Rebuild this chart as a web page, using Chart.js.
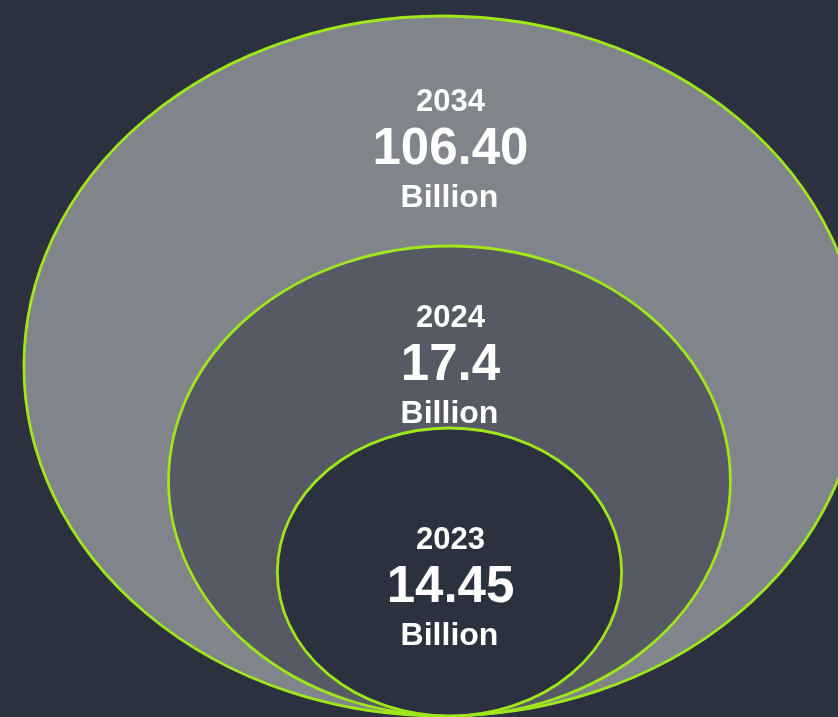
<!DOCTYPE html>
<html>
<head>
<meta charset="utf-8">
<script src="https://cdn.jsdelivr.net/npm/chart.js@4"></script>
<style>
  html, body { margin: 0; padding: 0; background: #2b313e; overflow: hidden; }
  #wrap { width: 838px; height: 717px; position: relative; }
</style>
</head>
<body>
<div id="wrap"><canvas id="c" width="838" height="717"></canvas></div>
<script>
// ---- data ----
const years = ['2034', '2024', '2023'];
const values = [106.40, 17.4, 14.45];
const valueLabels = ['106.40', '17.4', '14.45'];
const unitLabel = 'Billion';

// ---- style (sizes / positions / colours) ----
const ringRadius = [350, 235, 144];      // radius in axis units (x axis is stretched)
const ringOffsetX = [-6, 0, 0];
const labelCenterY = [566, 350, 128];    // axis units, centre of value text
const ringFill = ['#80848b', '#555a64', '#2b313e'];
const ringStroke = '#9fe61a';
const bgColor = '#2b313e';

const ringsPlugin = {
  id: 'rings',
  beforeDraw(chart) {
    const ctx = chart.ctx;
    ctx.save();
    ctx.fillStyle = bgColor;
    ctx.fillRect(0, 0, chart.width, chart.height);
    ctx.restore();
  },
  afterDatasetsDraw(chart) {
    const ctx = chart.ctx;
    const xs = chart.scales.x, ys = chart.scales.y;
    const meta = chart.getDatasetMeta(0);
    meta.data.forEach((pt, i) => {
      const raw = chart.data.datasets[0].data[i];
      const rx = Math.abs(xs.getPixelForValue(raw.x + ringRadius[i]) - xs.getPixelForValue(raw.x));
      const ry = Math.abs(ys.getPixelForValue(raw.y - ringRadius[i]) - ys.getPixelForValue(raw.y));
      ctx.save();
      ctx.beginPath();
      ctx.ellipse(pt.x, pt.y, rx, ry, 0, 0, Math.PI * 2);
      ctx.fillStyle = ringFill[i];
      ctx.fill();
      ctx.lineWidth = 2.8;
      ctx.strokeStyle = ringStroke;
      ctx.stroke();
      ctx.restore();
    });
    // labels
    const cx = xs.getPixelForValue(0);
    ctx.save();
    ctx.fillStyle = '#ffffff';
    ctx.textAlign = 'center';
    ctx.textBaseline = 'middle';
    years.forEach((yr, i) => {
      const yv = ys.getPixelForValue(labelCenterY[i]);
      ctx.font = 'bold 31px "Liberation Sans", Arial, sans-serif';
      ctx.fillText(yr, cx + 1, yv - 48);
      ctx.font = 'bold 51px "Liberation Sans", Arial, sans-serif';
      ctx.fillText(valueLabels[i], cx + 1, yv);
      ctx.font = 'bold 32px "Liberation Sans", Arial, sans-serif';
      ctx.fillText(unitLabel, cx, yv + 48.5);
    });
    ctx.restore();
  }
};

new Chart(document.getElementById('c'), {
  type: 'scatter',
  data: {
    labels: years,
    datasets: [{
      label: 'Market size',
      data: years.map((y, i) => ({ x: ringOffsetX[i], y: ringRadius[i], v: values[i] })),
      pointRadius: 0,
      pointHoverRadius: 0
    }]
  },
  options: {
    responsive: false,
    animation: false,
    layout: { padding: 0 },
    plugins: { legend: { display: false }, tooltip: { enabled: false } },
    scales: {
      x: { type: 'linear', min: -376, max: 325, display: false },
      y: { type: 'linear', min: -1, max: 716, display: false }
    }
  },
  plugins: [ringsPlugin]
});
</script>
</body>
</html>
